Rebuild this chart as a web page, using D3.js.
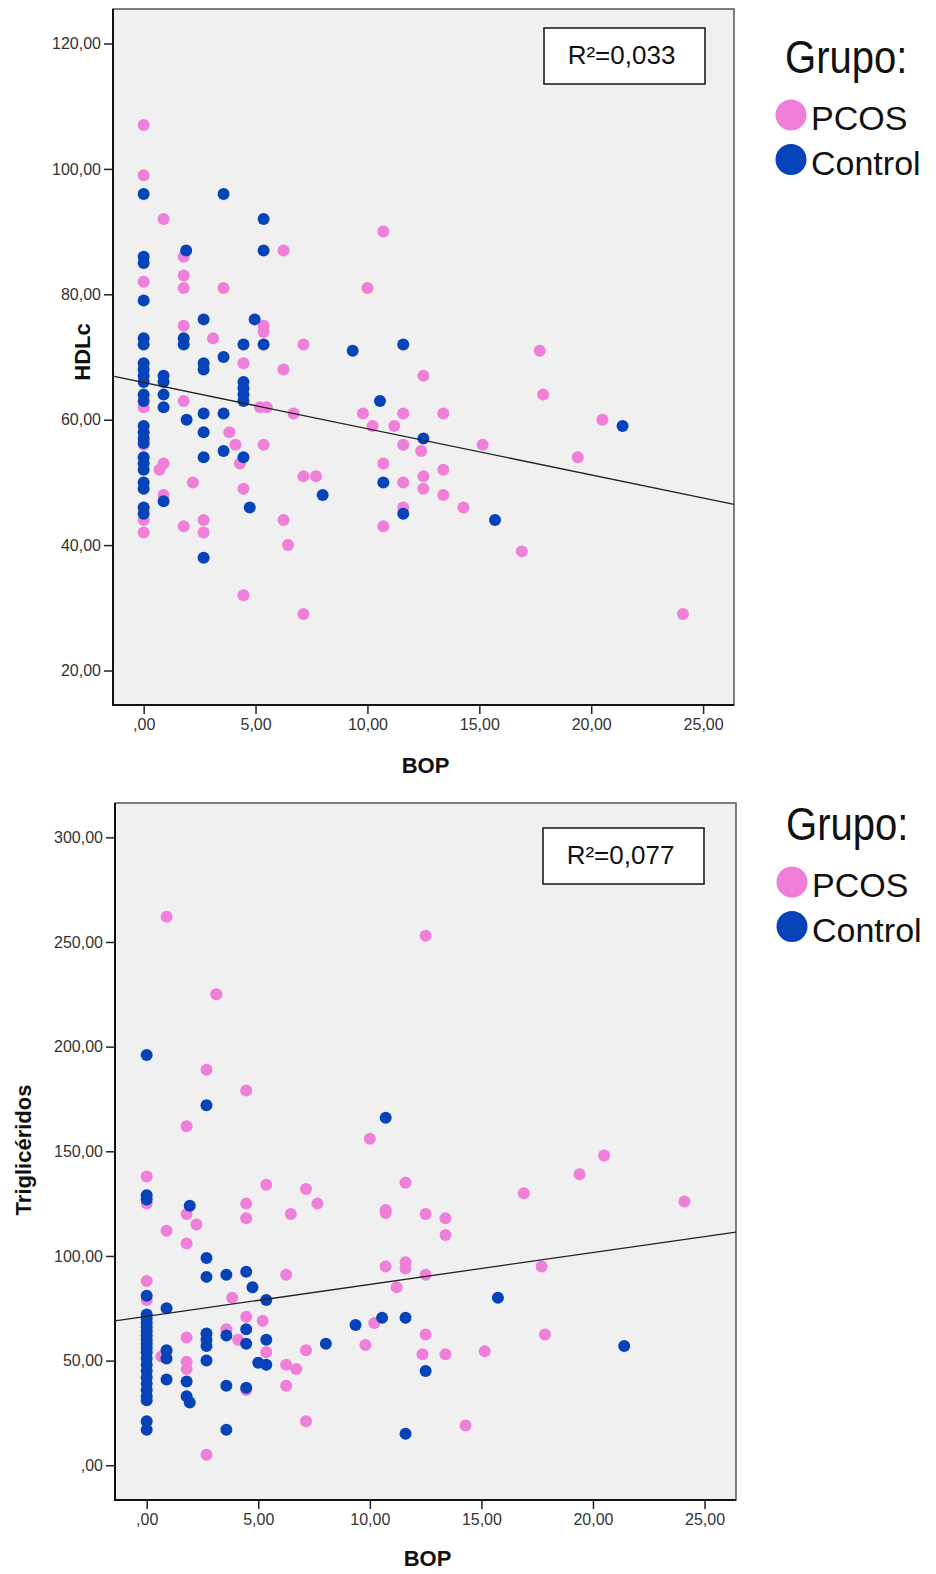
<!DOCTYPE html>
<html>
<head>
<meta charset="utf-8">
<script src="https://cdn.jsdelivr.net/npm/d3@7"></script>
<style>
  body { margin: 0; background: #fff; }
  svg text { font-family: "Liberation Sans", Arial, sans-serif; }
</style>
</head>
<body>
<div id="root"></div>
<script>
// ---- data ----
const bopTicks = [0, 5, 10, 15, 20, 25];
const hdlTicks = [20, 40, 60, 80, 100, 120];
const tgTicks = [0, 50, 100, 150, 200, 250, 300];
const groups = ['PCOS', 'Control'];

// [BOP, HDLc]
const hdlPcos = [
  [0,107],[0,99],[0,82],[0,62],[0,56],[0,44],[0,42],
  [0.89,92],[0.71,52],[0.89,53],[0.89,48],
  [1.79,86],[1.79,83],[1.79,81],[1.79,75],[1.79,63],[1.79,43],[2.2,50],
  [3.1,73],[2.68,44],[2.68,42],
  [3.57,81],[3.83,58],[4.1,56],[4.3,53],
  [4.46,69],[4.46,49],[4.46,32],
  [5.36,75],[5.36,74],[5.2,62],[5.5,62],[5.36,56],
  [6.25,87],[6.25,68],[6.25,44],[6.45,40],[6.7,61],
  [7.14,72],[7.14,51],[7.14,29],[7.7,51],
  [10.71,90],[10.0,81],[17.7,71],[12.5,67],[17.85,64],
  [9.8,61],[11.6,61],[13.39,61],[10.23,59],[11.2,59],[20.5,60],
  [11.6,56],[12.4,55],[15.15,56],[19.4,54],[10.71,53],[13.39,52],
  [11.6,50],[12.5,51],[12.5,49],[13.39,48],[11.6,46],[14.29,46],[10.71,43],[16.9,39],[24.1,29]
];
const hdlControl = [
  [0,96],[0,86],[0,85],[0,79],[0,73],[0,72],[0,69],[0,68],[0,67],[0,66],[0,64],[0,63],
  [0,59],[0,58],[0,57],[0,56.3],[0,54],[0,53],[0,52],[0,50],[0,49],[0,46],[0,45],
  [0.89,67],[0.89,66],[0.89,64],[0.89,62],[0.89,47],
  [1.9,87],[1.79,73],[1.79,72],[1.92,60],
  [2.68,76],[2.68,69],[2.68,68],[2.68,61],[2.68,58],[2.68,54],[2.68,38],
  [3.57,96],[3.57,70],[3.57,61],[3.57,55],
  [4.46,72],[4.46,66],[4.46,65],[4.46,64],[4.46,63],[4.46,54],[4.74,46],
  [5.36,92],[5.36,87],[4.96,76],[5.36,72],
  [8.0,48],[9.34,71],[11.6,72],[10.56,63],[12.5,57],[10.71,50],[11.6,45],[15.7,44],[21.4,59]
];

// [BOP, Triglicéridos]
const tgPcos = [
  [0.89,262],[12.5,253],[3.12,225],[2.68,189],[4.46,179],[1.79,162],[10.0,156],[0,138],
  [11.6,135],[5.36,134],[7.14,132],
  [0,125],[7.65,125],[4.46,125],[4.46,118],[1.79,120],[2.23,115],[6.46,120],[0.89,112],
  [1.79,106],[6.25,91],[0,88],[0,79],[3.83,80],
  [1.79,61],[3.57,65],[4.46,71],[4.1,60],[5.2,69],[5.36,54],[0.66,52],[1.79,49.5],[1.79,46],
  [4.46,36],[2.68,5],[6.25,48],[6.7,46],[6.25,38],[7.14,55],[7.14,21],
  [20.5,148],[19.4,139],[16.9,130],[24.1,126],[10.71,122],[10.71,120.5],[12.5,120],
  [13.39,118],[13.39,110],[10.71,95],[11.6,97],[11.6,94],[12.5,91],[11.2,85],[17.7,95],
  [10.2,68],[12.5,62.5],[17.85,62.5],[9.8,57.5],[12.36,53],[13.39,53],[15.15,54.5],[14.29,19]
];
const tgControl = [
  [0,196],[2.68,172],[10.71,166],[0,129],[0,127],[1.93,124],[2.68,99],[2.68,90],[3.57,91],
  [4.46,92.5],[4.74,85],[0,81],[5.36,79],[0.89,75],
  [0,72],[0,70],[0,68],[0,66],[0,64],[0,62],[0,60],[0,58],[0,56],[0,54],[0,51],[0,48],
  [0,45],[0,42],[0,39],[0,36],[0,33],[0,31],[0,21],[0,17],
  [2.68,63],[2.68,60],[2.68,57],[3.57,62],[4.46,65],[4.46,58],[5.36,60],[5.0,49],[5.36,48],
  [0.89,55],[0.89,51],[0.89,41],[1.79,40],[1.79,33],[1.93,30],[2.68,50],[3.57,38],[4.46,37],
  [3.57,17],[8.03,58],
  [15.74,80],[10.55,70.5],[11.6,70.5],[9.36,67],[21.4,57],[12.5,45],[11.6,15]
];

// fit lines (intercept, slope) and R²
const hdlFit = [65.93, -0.737];
const tgFit = [71.16, 1.524];
const hdlR2 = 'R\u00b2=0,033';
const tgR2 = 'R\u00b2=0,077';

const colors = { PCOS: '#f07fd9', Control: '#0743b8' };

const fmt = v => v === 0 ? ',00' : d3.format('.2f')(v).replace('.', ',');

class ScatterPanel {
  constructor(svg, o) {
    this.svg = svg;
    this.o = o;
    this.setScales();
    this.drawFrame();
    this.drawAxes();
    this.drawPoints();
    this.drawFit();
    this.drawBox();
    this.drawLegend();
  }

  setScales() {
    let o = this.o;
    this.x = d3.scaleLinear().domain(o.xDomain).range([o.left, o.right]);
    this.y = d3.scaleLinear().domain(o.yDomain).range([o.bottom, o.top]);
    return this;
  }

  drawFrame() {
    let o = this.o;
    this.svg.append('rect')
      .attr('x', o.left).attr('y', o.top)
      .attr('width', o.right - o.left).attr('height', o.bottom - o.top)
      .attr('fill', '#f0f0f0')
      .attr('stroke', '#555').attr('stroke-width', 1.5);
    // heavier left / bottom axis lines
    this.svg.append('path')
      .attr('d', `M${o.left},${o.top}V${o.bottom}H${o.right}`)
      .attr('fill', 'none').attr('stroke', '#111').attr('stroke-width', 2);
  }

  drawAxes() {
    let o = this.o;
    let gy = this.svg.append('g')
      .attr('transform', `translate(${o.left},0)`)
      .call(d3.axisLeft(this.y).tickValues(o.yTicks).tickFormat(fmt).tickSize(9).tickPadding(3));
    let gx = this.svg.append('g')
      .attr('transform', `translate(0,${o.bottom})`)
      .call(d3.axisBottom(this.x).tickValues(bopTicks).tickFormat(fmt).tickSize(9).tickPadding(5));
    [gx, gy].forEach(g => {
      g.select('.domain').remove();
      g.attr('font-family', null).attr('font-size', null);
      g.selectAll('line').attr('stroke', '#222').attr('stroke-width', 1.5);
      g.selectAll('text').attr('font-size', 16).attr('fill', '#333');
    });

    this.svg.append('text')
      .attr('x', (o.left + o.right) / 2 + 2)
      .attr('y', o.xLabelY)
      .attr('text-anchor', 'middle')
      .attr('font-size', 22).attr('font-weight', 'bold').attr('fill', '#111')
      .text('BOP');
    this.svg.append('text')
      .attr('transform', `translate(${o.yLabelX},${o.yLabelCY}) rotate(-90)`)
      .attr('text-anchor', 'middle')
      .attr('font-size', 22).attr('font-weight', 'bold').attr('fill', '#111')
      .text(o.yLabel);
  }

  drawPoints() {
    let o = this.o;
    let series = [
      { g: 'PCOS', pts: o.pcos },
      { g: 'Control', pts: o.control }
    ];
    this.svg.append('g').selectAll('g')
      .data(series)
      .enter().append('g')
      .attr('fill', d => colors[d.g])
      .selectAll('circle')
      .data(d => d.pts)
      .enter().append('circle')
      .attr('cx', d => this.x(d[0]))
      .attr('cy', d => this.y(d[1]))
      .attr('r', 6);
  }

  drawFit() {
    let [a, b] = this.o.fit;
    let xs = this.x.domain();
    this.svg.append('line')
      .attr('x1', this.x(xs[0])).attr('y1', this.y(a + b * xs[0]))
      .attr('x2', this.x(xs[1])).attr('y2', this.y(a + b * xs[1]))
      .attr('stroke', '#222').attr('stroke-width', 1.3);
  }

  drawBox() {
    let b = this.o.box;
    this.svg.append('rect')
      .attr('x', b.x).attr('y', b.y).attr('width', b.w).attr('height', b.h)
      .attr('fill', '#fff').attr('stroke', '#111').attr('stroke-width', 1.5);
    this.svg.append('text')
      .attr('x', b.x + b.w / 2 - 3).attr('y', b.y + 36)
      .attr('text-anchor', 'middle')
      .attr('font-size', 26).attr('fill', '#111')
      .text(this.o.r2);
  }

  drawLegend() {
    let l = this.o.legend;
    this.svg.append('text')
      .attr('transform', `translate(${l.x},${l.y}) scale(0.87,1)`)
      .attr('font-size', 46).attr('fill', '#111')
      .text('Grupo:');
    let items = this.svg.append('g').selectAll('g')
      .data(groups)
      .enter().append('g')
      .attr('transform', (d, i) => `translate(${l.x + 6},${l.y + 42 + i * 44.5})`);
    items.append('circle')
      .attr('r', 15.5)
      .attr('fill', d => colors[d]);
    items.append('text')
      .attr('x', 20).attr('y', 15)
      .attr('font-size', 34).attr('fill', '#111')
      .text(d => d);
  }
}

const svg = d3.select('#root')
  .append('svg')
  .attr('width', 936)
  .attr('height', 1574);

new ScatterPanel(svg, {
  left: 113, right: 734, top: 9, bottom: 705,
  xDomain: [-1.37, 26.38], yDomain: [14.5, 125.5],
  yTicks: hdlTicks, yLabel: 'HDLc', yLabelX: 90, yLabelCY: 352, xLabelY: 773,
  pcos: hdlPcos, control: hdlControl, fit: hdlFit, r2: hdlR2,
  box: { x: 544, y: 28, w: 161, h: 56 },
  legend: { x: 785, y: 73 }
});

new ScatterPanel(svg, {
  left: 115, right: 736, top: 803, bottom: 1500,
  xDomain: [-1.42, 26.41], yDomain: [-16.6, 316.4],
  yTicks: tgTicks, yLabel: 'Triglicéridos', yLabelX: 31, yLabelCY: 1150, xLabelY: 1566,
  pcos: tgPcos, control: tgControl, fit: tgFit, r2: tgR2,
  box: { x: 543, y: 828, w: 161, h: 56 },
  legend: { x: 786, y: 840 }
});
</script>
</body>
</html>
